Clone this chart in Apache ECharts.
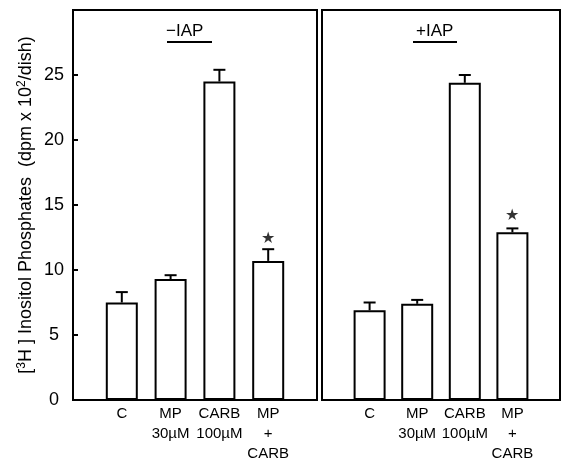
<!DOCTYPE html>
<html>
<head>
<meta charset="utf-8">
<script src="https://cdn.jsdelivr.net/npm/echarts@6/dist/echarts.min.js"></script>
<style>
  html, body { margin: 0; background: #fff; }
  #main { width: 563px; height: 461px; }
</style>
</head>
<body>
<div id="main"></div>
<script>
// treatments shown in each panel
const groups = ['C', 'MP\n30µM', 'CARB\n100µM', 'MP\n+\nCARB'];
// -IAP panel
const meanNoIAP = [7.5, 9.3, 24.5, 10.7];
const semNoIAP = [0.8, 0.3, 0.9, 0.9];
const starNoIAP = [null, null, null, 12.4];
// +IAP panel
const meanIAP = [6.9, 7.4, 24.4, 12.9];
const semIAP = [0.6, 0.3, 0.6, 0.3];
const starIAP = [null, null, null, 14.2];
const yMax = 30;
const yStep = 5;

const font = 'Liberation Sans, Arial, sans-serif';
// empty slots either side so the bars sit like the original
const cats = [''].concat(groups, ['']);
const pad = arr => [null].concat(arr, [null]);

function errSeries(idx, means, sems) {
  return {
    type: 'custom',
    xAxisIndex: idx, yAxisIndex: idx,
    z: 3,
    data: means.map((m, i) => [i + 1, m, sems[i]]),
    renderItem: function (params, api) {
      const x = api.value(0), m = api.value(1), e = api.value(2);
      const p0 = api.coord([x, m]);
      const p1 = api.coord([x, m + e]);
      const style = { stroke: '#000', lineWidth: 2 };
      return {
        type: 'group',
        children: [
          { type: 'line', shape: { x1: p0[0], y1: p0[1], x2: p1[0], y2: p1[1] }, style: style },
          { type: 'line', shape: { x1: p1[0] - 6, y1: p1[1], x2: p1[0] + 6, y2: p1[1] }, style: style }
        ]
      };
    }
  };
}

function barSeries(idx, means) {
  return {
    type: 'bar',
    xAxisIndex: idx, yAxisIndex: idx,
    barWidth: 32,
    data: pad(means),
    itemStyle: { color: '#fff', borderColor: '#000', borderWidth: 2 },
    silent: true
  };
}

function starSeries(idx, stars) {
  return {
    type: 'scatter',
    xAxisIndex: idx, yAxisIndex: idx,
    symbolSize: 1,
    itemStyle: { color: 'rgba(0,0,0,0)' },
    data: pad(stars),
    label: { show: true, position: 'inside', formatter: '★', fontSize: 16, color: '#000' }
  };
}

const xAxisBase = {
  type: 'category',
  data: cats,
  boundaryGap: false,
  axisLine: { show: false },
  axisTick: { show: false },
  axisLabel: { color: '#000', fontFamily: font, fontSize: 15, lineHeight: 20, margin: 4, interval: 0 }
};

const option = {
  animation: false,
  backgroundColor: '#fff',
  grid: [
    { left: 73, top: 10, width: 244, bottom: 61, show: true, borderColor: '#000', borderWidth: 2, outerBoundsMode: 'none', containLabel: false },
    { left: 322, top: 10, right: 3, bottom: 61, show: true, borderColor: '#000', borderWidth: 2, outerBoundsMode: 'none', containLabel: false }
  ],
  xAxis: [
    Object.assign({ gridIndex: 0 }, xAxisBase),
    Object.assign({ gridIndex: 1 }, xAxisBase)
  ],
  yAxis: [
    {
      gridIndex: 0, type: 'value', min: 0, max: yMax, interval: yStep,
      splitLine: { show: false },
      axisLine: { show: true, lineStyle: { color: '#000', width: 2 } },
      axisTick: { show: true, inside: true, length: 5, lineStyle: { color: '#000', width: 2 } },
      axisLabel: {
        color: '#000', fontFamily: font, fontSize: 18, margin: 19, align: 'center',
        formatter: v => (v >= yMax ? '' : v)
      },
      name: '{n|[}{s|3}{n|H ] Inositol Phosphates  (dpm x 10}{s|2}{n|/dish)}',
      nameLocation: 'middle',
      nameGap: 36,
      nameTextStyle: {
        rich: {
          n: { fontFamily: font, fontSize: 18, color: '#000' },
          s: { fontFamily: font, fontSize: 12, color: '#000', verticalAlign: 'top', padding: [0, 0, 9, 0] }
        }
      }
    },
    {
      gridIndex: 1, type: 'value', min: 0, max: yMax, interval: yStep,
      splitLine: { show: false },
      axisLine: { show: false },
      axisTick: { show: false },
      axisLabel: { show: false }
    }
  ],
  graphic: [
    { type: 'text', left: 166, top: 23, style: { text: '−IAP', font: '17px ' + font, fill: '#000' } },
    { type: 'line', shape: { x1: 167, y1: 42, x2: 212, y2: 42 }, style: { stroke: '#000', lineWidth: 2 } },
    { type: 'text', left: 416, top: 23, style: { text: '+IAP', font: '17px ' + font, fill: '#000' } },
    { type: 'line', shape: { x1: 413, y1: 42, x2: 457, y2: 42 }, style: { stroke: '#000', lineWidth: 2 } }
  ],
  series: [
    barSeries(0, meanNoIAP),
    errSeries(0, meanNoIAP, semNoIAP),
    starSeries(0, starNoIAP),
    barSeries(1, meanIAP),
    errSeries(1, meanIAP, semIAP),
    starSeries(1, starIAP)
  ]
};

const chart = echarts.init(document.getElementById('main'));
chart.setOption(option);
</script>
</body>
</html>
